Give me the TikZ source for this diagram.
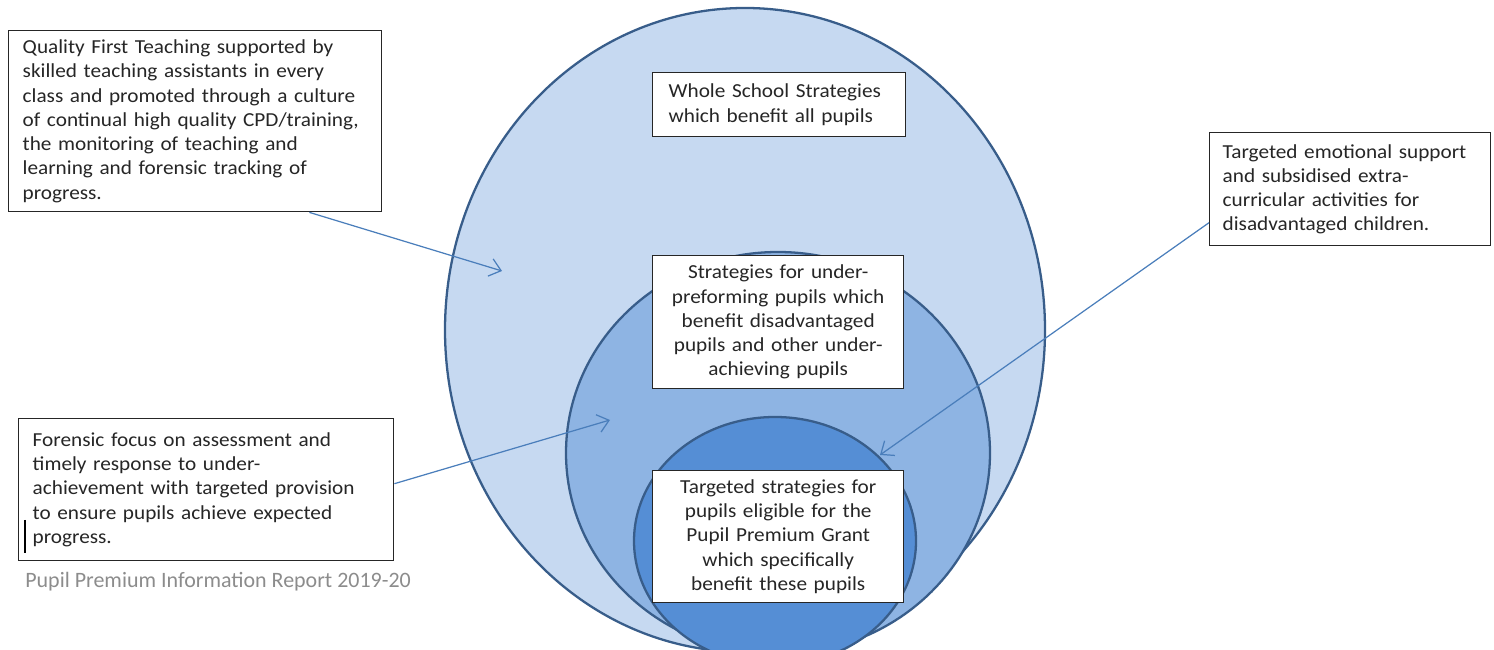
\documentclass[tikz,border=0pt]{standalone}
\usepackage{fontspec}
\setmainfont{Carlito}[FakeStretch=1.07]
\newfontfamily\footfont{Carlito}
\usetikzlibrary{
		calc,
		positioning,
		arrows.meta
	}
\definecolor{ringedge}{HTML}{385D8A}
\definecolor{ringouter}{HTML}{C6D9F1}
\definecolor{ringmiddle}{HTML}{8EB4E3}
\definecolor{ringinner}{HTML}{558ED5}
\definecolor{pointer}{HTML}{4A7EBB}
\definecolor{footgray}{HTML}{8C8C8C}
\tikzset{
		>={Straight Barb[length=2.2mm,width=3.6mm]},
		ring/.style={draw=ringedge, line width=1.3pt},
		infobox/.style={draw=black!85, line width=0.8pt, fill=white, anchor=north west,
			inner xsep=0.28cm, inner ysep=0pt, align=left,
			font=\fontsize{11.3}{13.8}\selectfont, text=black!85},
		strategybox/.style={infobox, align=center},
		pointerline/.style={draw=pointer, line width=0.7pt, ->}
	}

\begin{document}
\begin{tikzpicture}
		\useasboundingbox (0,0) rectangle (29.88,13);
		\clip (0,0) rectangle (29.88,13);
		% nested rings
		\draw[ring, fill=ringouter] (14.9,6.4) ellipse [x radius=6cm, y radius=6.44cm];
		\draw[ring, fill=ringmiddle] (15.56,3.94) ellipse [x radius=4.24cm, y radius=4.02cm];
		\draw[ring, fill=ringinner] (15.5,2.18) ellipse [x radius=2.82cm, y radius=2.48cm];
		% labels inside the rings
		\node[infobox, text width=4.42cm, minimum height=1.28cm, inner xsep=0.32cm] (whole) at (13.04,11.56) {Whole School Strategies\\which benefit all pupils};
		\node[strategybox, text width=4.46cm, minimum height=2.66cm] (under) at (13.04,7.9) {Strategies for under-\\preforming pupils which\\benefit disadvantaged\\pupils and other under-\\achieving pupils};
		\node[strategybox, text width=4.46cm, minimum height=2.64cm] (grant) at (13.04,3.6) {Targeted strategies for\\pupils eligible for the\\Pupil Premium Grant\\which specifically\\benefit these pupils};
		% side notes
		\node[infobox, text width=6.9cm, minimum height=3.62cm] (quality) at (0.16,12.4) {Quality First Teaching supported by\\skilled teaching assistants in every\\class and promoted through a culture\\of continual high quality CPD/training,\\the monitoring of teaching and\\learning and forensic tracking of\\progress.};
		\node[infobox, text width=6.94cm, minimum height=2.84cm] (focus) at (0.36,4.64) {Forensic focus on assessment and\\timely response to under-\\achievement with targeted provision\\to ensure pupils achieve expected\\progress.};
		\node[infobox, text width=5.1cm, minimum height=2.26cm, inner xsep=0.26cm] (emotional) at (24.18,10.36) {Targeted emotional support\\and subsidised extra-\\curricular activities for\\disadvantaged children.};
		\draw[black, line width=0.6pt] (0.5,2.6) -- (0.5,1.94);
		\node[anchor=west, inner sep=0pt, text=footgray, font=\footfont\fontsize{12.5}{14}\selectfont] (report) at (0.5,1.36) {Pupil Premium Information Report 2019-20};
		% pointers
		\coordinate (qualitytip) at (10.04,7.58);
		\coordinate (focustip) at (12.2,4.6);
		\coordinate (emotionaltip) at (17.6,3.9);
		\draw[pointerline] ([xshift=-1.46cm]quality.south east) -- (qualitytip);
		\draw[pointerline] ([yshift=0.12cm]focus.east) -- (focustip);
		\draw[pointerline] ([yshift=-0.67cm]emotional.west) -- (emotionaltip);
	\end{tikzpicture}
\end{document}
